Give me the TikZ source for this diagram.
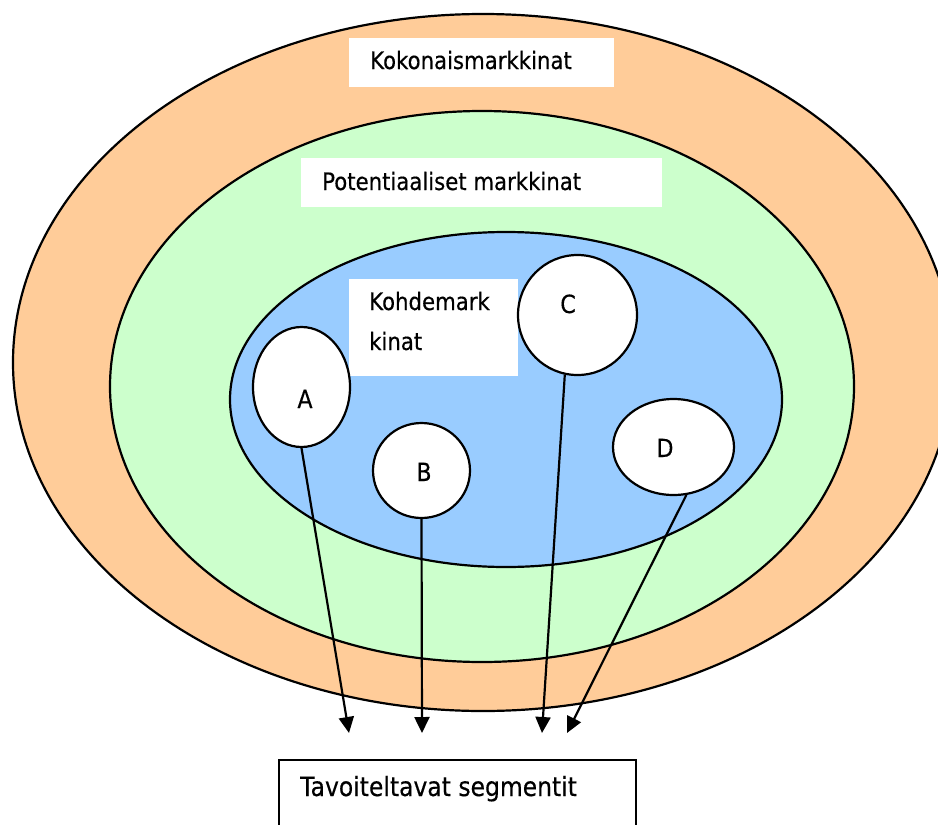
\documentclass[tikz,border=0pt]{standalone}
\usepackage{fontspec}
\setmainfont[FakeStretch=0.885,FakeBold=0.4]{DejaVu Sans}
\usetikzlibrary{shapes.geometric,arrows.meta}
\definecolor{peach}{HTML}{FFCC99}
\definecolor{mint}{HTML}{CCFFCC}
\definecolor{sky}{HTML}{99CCFF}
\begin{document}
\begin{tikzpicture}[x=1pt,y=-1pt,
  ring/.style={ellipse,draw=black,line width=2.2pt,inner sep=0pt},
  seg/.style={ellipse,draw=black,fill=white,line width=2.2pt,inner sep=0pt},
  whitebox/.style={rectangle,fill=white,inner sep=0pt,anchor=north west},
  lbl/.style={inner sep=0pt,anchor=base west,font=\fontsize{24}{28}\selectfont},
  letter/.style={inner sep=0pt,anchor=base,font=\fontsize{25}{29}\selectfont},
  link/.style={line width=2.2pt,-{Triangle[length=16pt,width=15pt]}}]
\useasboundingbox (0,0) rectangle (938,825);

% nested markets
\node[ring,fill=peach,minimum width=940,minimum height=697] (total) at (483,362.5) {};
\node[ring,fill=mint,minimum width=744,minimum height=551] (potential) at (482,386.5) {};
\node[ring,fill=sky,minimum width=552,minimum height=335] (target) at (506,399.5) {};

% market labels
\node[whitebox,minimum width=265,minimum height=49] (totbox) at (349,38) {};
\node[lbl] (totlbl) at (370,69) {Kokonaismarkkinat};
\node[whitebox,minimum width=361,minimum height=49] (potbox) at (301,158) {};
\node[lbl] (potlbl) at (322,190) {Potentiaaliset markkinat};
\node[whitebox,minimum width=169,minimum height=97] (tgtbox) at (349,279) {};
\node[lbl] (tgtlbl1) at (369,310) {Kohdemark};
\node[lbl] (tgtlbl2) at (369,350) {kinat};

% segments
\node[seg,minimum width=97,minimum height=120] (a) at (301.5,387) {};
\node[seg,minimum width=97,minimum height=95] (b) at (421.5,470.5) {};
\node[seg,minimum width=119,minimum height=120] (c) at (577.5,315) {};
\node[seg,minimum width=121,minimum height=96] (d) at (673.5,447) {};
\node[letter] (alab) at (305,408) {A};
\node[letter] (blab) at (424,481) {B};
\node[letter] (clab) at (568,313) {C};
\node[letter] (dlab) at (665,457) {D};

% chosen segments
\node[rectangle,draw=black,fill=white,line width=1.8pt,anchor=north west,
      minimum width=357,minimum height=80] (goal) at (278,759) {};
\node[lbl,font=\fontsize{26.5}{30}\selectfont] (goallbl) at (300,796) {Tavoiteltavat segmentit};

\coordinate (ta) at (349,733);
\coordinate (tb) at (422,733);
\coordinate (tc) at (542,733);
\coordinate (td) at (567,733);
\draw[link] (a.south) -- (ta);
\draw[link] (b.south) -- (tb);
\draw[link] (c.-102) -- (tc);
\draw[link] (d.-75) -- (td);
\end{tikzpicture}
\end{document}
